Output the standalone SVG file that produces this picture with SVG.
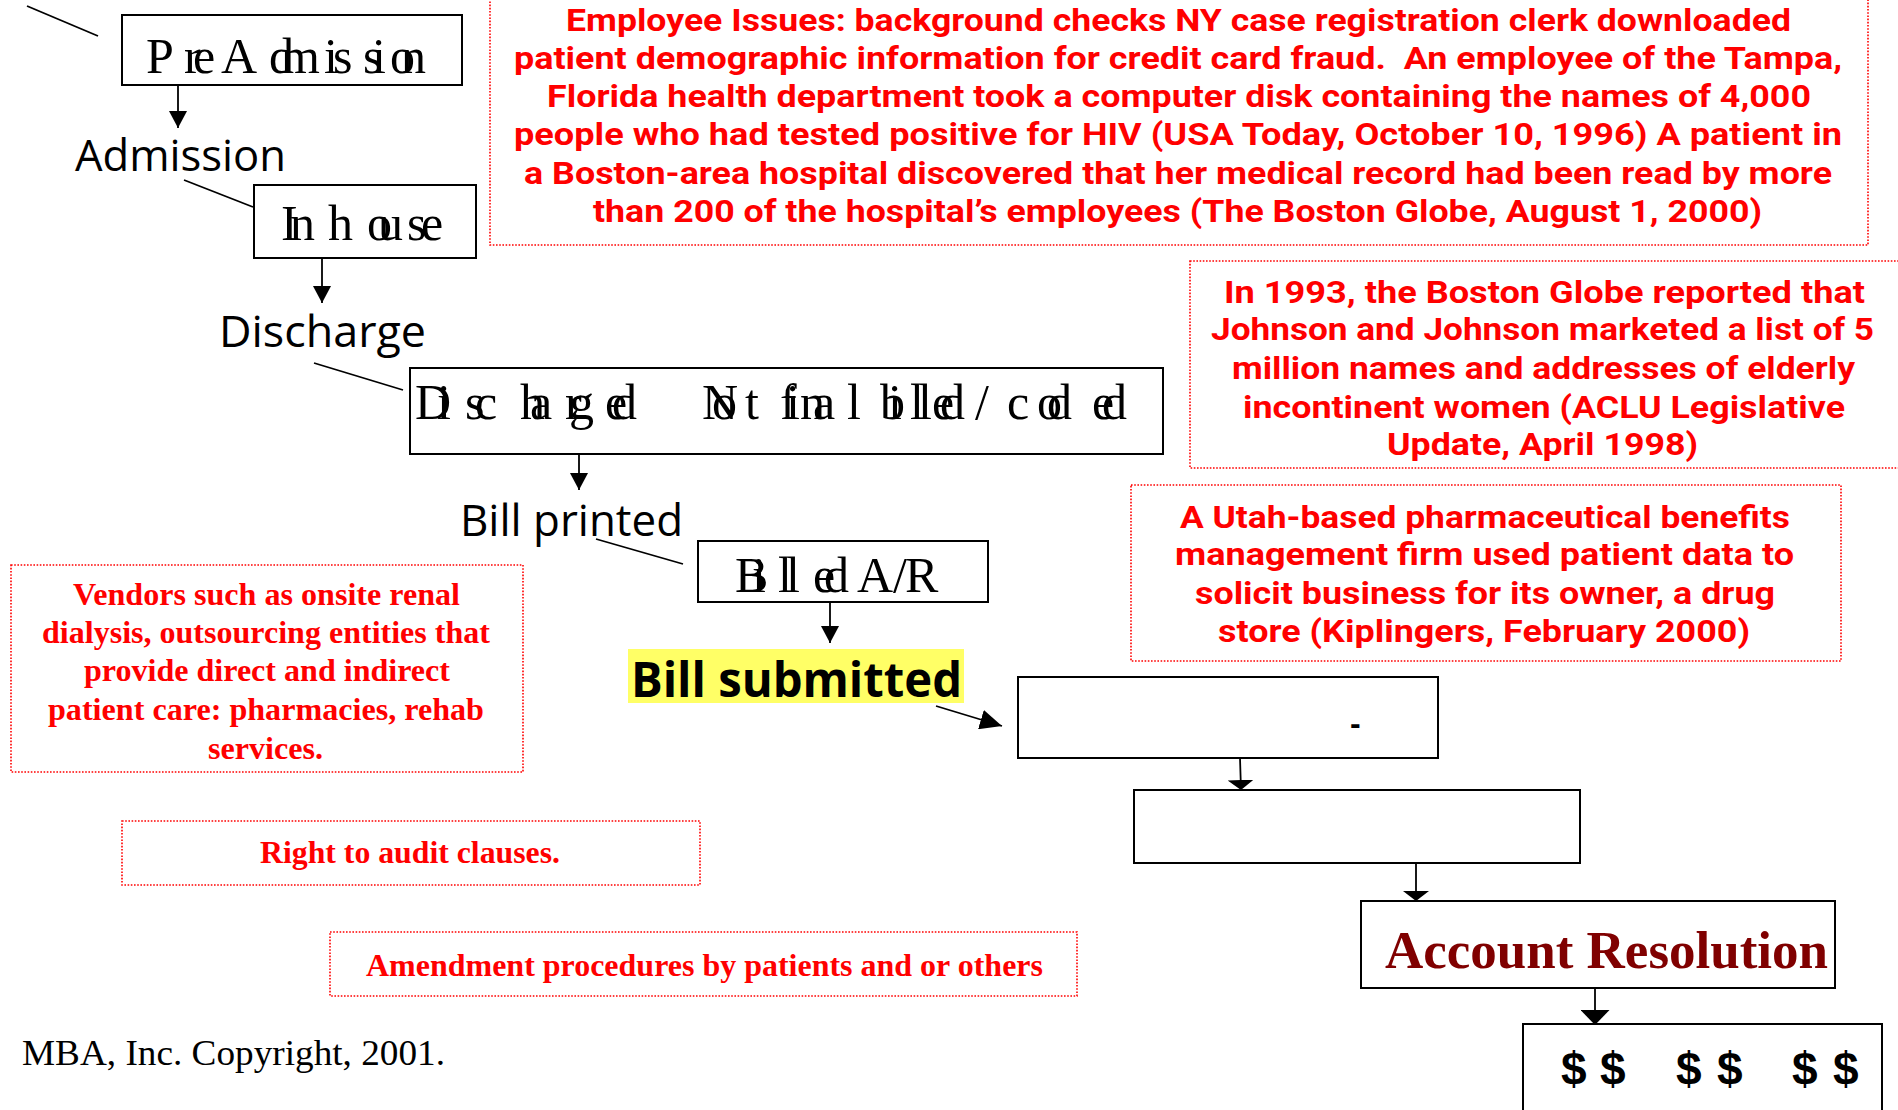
<svg xmlns="http://www.w3.org/2000/svg" width="1898" height="1110" viewBox="0 0 1898 1110">
<style>
.box{fill:#fff;stroke:#000;stroke-width:2}
.note{fill:none;stroke:#FF0000;stroke-width:1.6;stroke-dasharray:1.6 1.6}
.tg{font-family:"Liberation Serif",serif;font-size:50px;fill:#000}
.lbl{font-family:"Open Sans","Liberation Sans",sans-serif;font-size:44px;fill:#000}
.rs{font-family:Roboto,"Liberation Sans",sans-serif;font-weight:bold;font-size:31px;fill:#FF0000}
.rt{font-family:"Liberation Serif",serif;font-weight:bold;font-size:31px;fill:#FF0000}
.ln{stroke:#000;stroke-width:1.8;fill:none}
</style>
<defs>
<marker id="ahS" markerUnits="userSpaceOnUse" markerWidth="17" markerHeight="18" refX="17" refY="9" orient="auto"><path d="M0,0 L17,9 L0,18 z" fill="#000"/></marker>
<marker id="ahF" markerUnits="userSpaceOnUse" markerWidth="10" markerHeight="26" refX="10" refY="13" orient="auto"><path d="M0,0 L10,13 L0,26 z" fill="#000"/></marker>
<marker id="ahB" markerUnits="userSpaceOnUse" markerWidth="15" markerHeight="29" refX="15" refY="14.5" orient="auto"><path d="M0,0 L15,14.5 L0,29 z" fill="#000"/></marker>
<marker id="ahD" markerUnits="userSpaceOnUse" markerWidth="22" markerHeight="20" refX="22" refY="10" orient="auto"><path d="M0,0 L22,10 L0,20 z" fill="#000"/></marker>
</defs>
<rect width="1898" height="1110" fill="#fff"/>

<g id="connectors">
<line class="ln" x1="27" y1="6" x2="98" y2="36"/>
<line class="ln" x1="178" y1="85" x2="178" y2="128" marker-end="url(#ahS)"/>
<line class="ln" x1="184" y1="180" x2="253" y2="207"/>
<line class="ln" x1="322" y1="258" x2="322" y2="303" marker-end="url(#ahS)"/>
<line class="ln" x1="314" y1="363" x2="403" y2="390"/>
<line class="ln" x1="579" y1="454" x2="579" y2="490" marker-end="url(#ahS)"/>
<line class="ln" x1="596" y1="539" x2="683" y2="564"/>
<line class="ln" x1="830" y1="602" x2="830" y2="643" marker-end="url(#ahS)"/>
<line class="ln" x1="936" y1="706" x2="1002" y2="726" marker-end="url(#ahD)"/>
<line class="ln" x1="1240" y1="758" x2="1241" y2="790" marker-end="url(#ahF)"/>
<line class="ln" x1="1416" y1="863" x2="1416" y2="901" marker-end="url(#ahF)"/>
<line class="ln" x1="1595" y1="988" x2="1595" y2="1025" marker-end="url(#ahB)"/>
</g>

<g id="n-preadmission">
<rect class="box" x="122" y="15" width="340" height="70"/>
<text class="tg" x="146 184 193 210 221 269 281 324 333 363 372 390 401" y="73">Pre Admission</text>
</g>
<g id="l-admission"><text class="lbl" x="75" y="171" textLength="211" lengthAdjust="spacingAndGlyphs">Admission</text></g>

<g id="n-inhouse">
<rect class="box" x="254" y="185" width="222" height="73"/>
<text class="tg" x="281 290 315 328 367 378 407 421" y="240">In house</text>
</g>
<g id="l-discharge"><text class="lbl" x="219" y="347" textLength="207" lengthAdjust="spacingAndGlyphs">Discharge</text></g>

<g id="n-discharged">
<rect class="box" x="410" y="368" width="753" height="86"/>
<text class="tg" x="415 437 465 475 520 530 565 569 605 612 650 702 712 745 760 780 786 800 813 847 865 880 888 910 918 932 940 975 1007 1037 1047 1092 1102" y="419">Discharged Not final billed/coded</text>
</g>
<g id="l-billprinted"><text class="lbl" x="460" y="536" textLength="223" lengthAdjust="spacingAndGlyphs">Bill printed</text></g>

<g id="n-billed">
<rect class="box" x="698" y="541" width="290" height="61"/>
<text class="tg" x="735 752 778 786 813 824 840 857 893 905" y="592">Billed A/R</text>
</g>

<g id="n-billsubmitted">
<rect x="628" y="649" width="336" height="54" fill="#FFFF66"/>
<text x="631" y="697" font-family="'Open Sans','Liberation Sans',sans-serif" font-weight="bold" font-size="48" textLength="331" lengthAdjust="spacingAndGlyphs">Bill submitted</text>
</g>

<g id="n-step1">
<rect class="box" x="1018" y="677" width="420" height="81"/>
<text x="1350" y="734" font-family="'Liberation Sans',sans-serif" font-weight="bold" font-size="32">-</text>
</g>
<g id="n-step2"><rect class="box" x="1134" y="790" width="446" height="73"/></g>

<g id="n-account">
<rect class="box" x="1361" y="901" width="474" height="87"/>
<text x="1385" y="968" font-family="'Liberation Serif',serif" font-weight="bold" font-size="53" fill="#800000" textLength="443" lengthAdjust="spacingAndGlyphs">Account Resolution</text>
</g>

<g id="n-dollars">
<rect class="box" x="1523" y="1024" width="359" height="100"/>
<text x="1561 1600 1650 1676 1717 1770 1792 1833" y="1085" font-family="'Liberation Sans',sans-serif" font-weight="bold" font-size="46">$$ $$ $$</text>
</g>

<g id="note-employee">
<rect class="note" x="490" y="-5" width="1378" height="250"/>
<text class="rs" x="566" y="31" textLength="1225" lengthAdjust="spacingAndGlyphs">Employee Issues: background checks NY case registration clerk downloaded</text>
<text class="rs" x="514" y="69" textLength="1328" lengthAdjust="spacingAndGlyphs" xml:space="preserve">patient demographic information for credit card fraud.  An employee of the Tampa,</text>
<text class="rs" x="547" y="107" textLength="1264" lengthAdjust="spacingAndGlyphs">Florida health department took a computer disk containing the names of 4,000</text>
<text class="rs" x="514" y="145" textLength="1328" lengthAdjust="spacingAndGlyphs">people who had tested positive for HIV (USA Today, October 10, 1996) A patient in</text>
<text class="rs" x="524" y="184" textLength="1308" lengthAdjust="spacingAndGlyphs">a Boston-area hospital discovered that her medical record had been read by more</text>
<text class="rs" x="593" y="222" textLength="1169" lengthAdjust="spacingAndGlyphs">than 200 of the hospital’s employees (The Boston Globe, August 1, 2000)</text>
</g>

<g id="note-johnson">
<rect class="note" x="1190" y="261" width="720" height="207"/>
<text class="rs" x="1224" y="303" textLength="641" lengthAdjust="spacingAndGlyphs">In 1993, the Boston Globe reported that</text>
<text class="rs" x="1211" y="340" textLength="663" lengthAdjust="spacingAndGlyphs">Johnson and Johnson marketed a list of 5</text>
<text class="rs" x="1232" y="379" textLength="623" lengthAdjust="spacingAndGlyphs">million names and addresses of elderly</text>
<text class="rs" x="1243" y="418" textLength="602" lengthAdjust="spacingAndGlyphs">incontinent women (ACLU Legislative</text>
<text class="rs" x="1387" y="455" textLength="311" lengthAdjust="spacingAndGlyphs">Update, April 1998)</text>
</g>

<g id="note-utah">
<rect class="note" x="1131" y="485" width="710" height="176"/>
<text class="rs" x="1180" y="528" textLength="610" lengthAdjust="spacingAndGlyphs">A Utah-based pharmaceutical benefits</text>
<text class="rs" x="1175" y="565" textLength="619" lengthAdjust="spacingAndGlyphs">management firm used patient data to</text>
<text class="rs" x="1195" y="604" textLength="580" lengthAdjust="spacingAndGlyphs">solicit business for its owner, a drug</text>
<text class="rs" x="1218" y="642" textLength="532" lengthAdjust="spacingAndGlyphs">store (Kiplingers, February 2000)</text>
</g>

<g id="note-vendors">
<rect class="note" x="11" y="565" width="512" height="207"/>
<text class="rt" x="73" y="605" textLength="387" lengthAdjust="spacingAndGlyphs">Vendors such as onsite renal</text>
<text class="rt" x="42" y="643" textLength="448" lengthAdjust="spacingAndGlyphs">dialysis, outsourcing entities that</text>
<text class="rt" x="84" y="681" textLength="366" lengthAdjust="spacingAndGlyphs">provide direct and indirect</text>
<text class="rt" x="48" y="720" textLength="436" lengthAdjust="spacingAndGlyphs">patient care: pharmacies, rehab</text>
<text class="rt" x="208" y="759" textLength="115" lengthAdjust="spacingAndGlyphs">services.</text>
</g>

<g id="note-audit">
<rect class="note" x="122" y="821" width="578" height="64"/>
<text class="rt" x="260" y="863" textLength="300" lengthAdjust="spacingAndGlyphs">Right to audit clauses.</text>
</g>

<g id="note-amendment">
<rect class="note" x="330" y="932" width="747" height="64"/>
<text class="rt" x="366" y="976" textLength="677" lengthAdjust="spacingAndGlyphs">Amendment procedures by patients and or others</text>
</g>

<g id="copyright">
<text x="22" y="1065" font-family="'Liberation Serif',serif" font-size="35" fill="#000" textLength="423" lengthAdjust="spacingAndGlyphs">MBA, Inc. Copyright, 2001.</text>
</g>
</svg>
